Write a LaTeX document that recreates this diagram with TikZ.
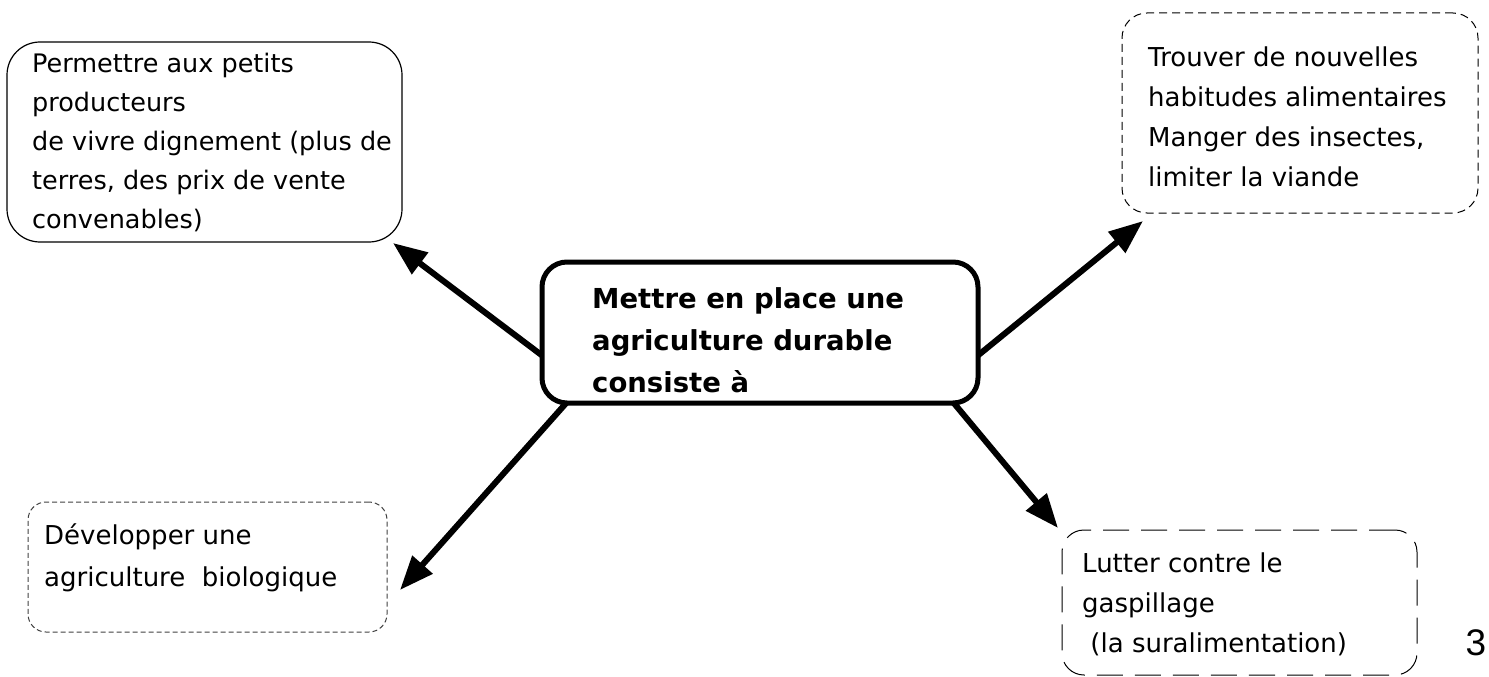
\documentclass[tikz,border=0pt]{standalone}
\usepackage{fontspec}
\newfontfamily\comic{DejaVu Sans}
\newfontfamily\pgfont{Liberation Sans}
\usetikzlibrary{arrows.meta}
\begin{document}
\begin{tikzpicture}[x=1pt,y=-1pt,
  boxbase/.style={anchor=north west, inner sep=0pt, outer sep=0pt},
  txt/.style={inner sep=0pt, anchor=north west, align=left, font=\comic\fontsize{26}{40}\selectfont},
  btxt/.style={inner sep=0pt, anchor=north west, align=left, font=\comic\bfseries\fontsize{27.5}{42}\selectfont},
  conn/.style={line width=6pt, -{Triangle[length=34pt,width=26pt]}},
]
\useasboundingbox (0,0) rectangle (1489,677);
% boxes
\node[boxbase, draw, line width=1.2pt, rounded corners=33pt, minimum width=395pt, minimum height=200pt] (tl) at (7,42) {};
\node[boxbase, draw, line width=1pt, dash pattern=on 8pt off 5pt, rounded corners=25pt, minimum width=356pt, minimum height=200pt] (tr) at (1122,13) {};
\node[boxbase, draw, line width=5pt, rounded corners=25pt, minimum width=436pt, minimum height=141pt] (c) at (542,262) {};
\node[boxbase, draw=black!75, line width=1pt, dash pattern=on 5pt off 3pt, rounded corners=18pt, minimum width=359pt, minimum height=130pt] (bl) at (28,502) {};
\node[boxbase, draw, line width=1pt, dash pattern=on 26pt off 12pt, rounded corners=22pt, minimum width=355pt, minimum height=145pt] (br) at (1062,530) {};
% texts
\node[txt, font=\comic\fontsize{25.5}{39}\selectfont] (tlt) at (32,53) {Permettre aux petits\\producteurs\\de vivre dignement (plus de\\terres, des prix de vente\\convenables)};
\node[txt] (trt) at (1148,47) {Trouver de nouvelles\\habitudes alimentaires\\Manger des insectes,\\limiter la viande};
\node[btxt] (ct) at (592,287) {Mettre en place une\\agriculture durable\\consiste à};
\node[txt, font=\comic\fontsize{26}{42}\selectfont] (blt) at (44,523) {Développer une\\agriculture\ \ biologique};
\node[txt] (brt) at (1082,553) {Lutter contre le\\gaspillage\\\ (la suralimentation)};
\node[inner sep=0pt, font=\pgfont\fontsize{37}{40}\selectfont] (pg) at (1476,643) {3};
% connectors
\draw[conn] (c.186.7) -- ([xshift=-9pt,yshift=-1pt]tl.south east);
\draw[conn] (c.354.6) -- ([xshift=21pt,yshift=-8pt]tr.south west);
\draw[conn] (c.340.3) -- ([xshift=-4pt,yshift=2pt]br.north west);
\draw[conn] (c.200.4) -- ([xshift=13pt,yshift=-23pt]bl.east);
\end{tikzpicture}
\end{document}
